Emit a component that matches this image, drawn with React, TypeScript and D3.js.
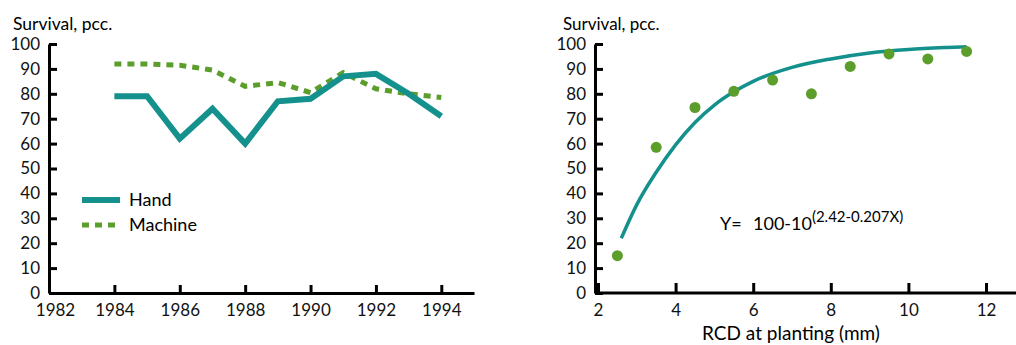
import { useEffect, useRef } from 'react';
import * as d3 from 'd3';

// left panel: survival by year
const years = [1984, 1985, 1986, 1987, 1988, 1989, 1990, 1991, 1992, 1993, 1994];
const handSurvival = [79, 79, 62, 74, 60, 77, 78, 87, 88, 80, 71];
const machineSurvival = [92, 92, 91.5, 89.5, 83, 84.5, 80.5, 88.5, 82, 80, 78.5];
const yearTicks = [1982, 1984, 1986, 1988, 1990, 1992, 1994];

// right panel: survival vs RCD
const rcd = [2.5, 3.5, 4.5, 5.5, 6.5, 7.5, 8.5, 9.5, 10.5, 11.5];
const rcdSurvival = [15, 58.5, 74.5, 81, 85.5, 80, 91, 96, 94, 97];
const fitX = [2.6, 3, 3.5, 4, 4.5, 5, 5.5, 6, 7, 8, 9, 10, 11, 11.5];
const fitY = [22, 35.5, 48.5, 59.5, 68.5, 75.5, 80.8, 85, 90.6, 94, 96.4, 97.8, 98.6, 98.9];
const rcdTicks = [2, 4, 6, 8, 10, 12];
const survivalTicks = [0, 10, 20, 30, 40, 50, 60, 70, 80, 90, 100];

const TEAL = '#14918d';
const GREEN = '#5c9e2c';
const FONT = 'Lato, "Open Sans", sans-serif';

const App = () => {
  const svgRef = useRef<SVGSVGElement>(null);

  useEffect(() => {
    const svg = d3.select(svgRef.current);
    svg.selectAll('*').remove();

    const top = 44;
    const bottom = 293;
    const y = d3.scaleLinear().domain([0, 100]).range([bottom, top]);

    const styleAxis = (g: any) => {
      g.select('.domain').attr('stroke', '#000').attr('stroke-width', 3);
      g.selectAll('.tick line').attr('stroke', '#000').attr('stroke-width', 3);
      g.selectAll('.tick text')
        .attr('font-family', FONT)
        .attr('font-size', 17)
        .attr('fill', '#111');
    };

    // ---------- left chart ----------
    const xL = d3.scaleLinear().domain([1982, 1995]).range([49, 474]);
    const left = svg.append('g');

    left.append('g')
      .attr('transform', `translate(49,0)`)
      .call(d3.axisLeft(y).tickValues(survivalTicks).tickSize(-8).tickSizeOuter(0).tickPadding(9))
      .call(styleAxis);

    const xAxisL = left.append('g')
      .attr('transform', `translate(0,${bottom})`)
      .call(d3.axisBottom(xL).tickValues(yearTicks).tickFormat(d3.format('d')).tickSize(-8).tickSizeOuter(0).tickPadding(11))
      .call(styleAxis);
    // first year label sits a little right of the corner
    xAxisL.selectAll('.tick text').filter((d: any) => d === 1982).attr('dx', 6);

    const lineL = d3.line<number>()
      .x((_, i) => xL(years[i]))
      .y(d => y(d));

    left.append('path')
      .datum(machineSurvival)
      .attr('d', lineL)
      .attr('fill', 'none')
      .attr('stroke', GREEN)
      .attr('stroke-width', 5)
      .attr('stroke-dasharray', '7,6');

    left.append('path')
      .datum(handSurvival)
      .attr('d', lineL)
      .attr('fill', 'none')
      .attr('stroke', TEAL)
      .attr('stroke-width', 6);

    left.append('text')
      .attr('x', 13).attr('y', 30)
      .attr('font-family', FONT).attr('font-size', 17.5)
      .text('Survival, pcc.');

    // legend
    const legend = left.append('g');
    legend.append('line')
      .attr('x1', 82).attr('x2', 120).attr('y1', 200).attr('y2', 200)
      .attr('stroke', TEAL).attr('stroke-width', 6);
    legend.append('line')
      .attr('x1', 82).attr('x2', 120).attr('y1', 225).attr('y2', 225)
      .attr('stroke', GREEN).attr('stroke-width', 5).attr('stroke-dasharray', '7,6');
    legend.append('text')
      .attr('x', 129).attr('y', 206)
      .attr('font-family', FONT).attr('font-size', 18)
      .text('Hand');
    legend.append('text')
      .attr('x', 129).attr('y', 231)
      .attr('font-family', FONT).attr('font-size', 18)
      .text('Machine');

    // ---------- right chart ----------
    const xR = d3.scaleLinear().domain([2, 12]).range([598, 986]);
    const right = svg.append('g');

    right.append('g')
      .attr('transform', `translate(595,0)`)
      .call(d3.axisLeft(y).tickValues(survivalTicks).tickSize(-8).tickSizeOuter(0).tickPadding(9))
      .call(styleAxis);

    const xAxisR = right.append('g')
      .attr('transform', `translate(0,${bottom})`)
      .call(d3.axisBottom(xR).tickValues(rcdTicks).tickSize(-10).tickSizeOuter(0).tickPadding(11))
      .call(styleAxis);
    xAxisR.select('.domain').attr('d', `M595,0H1016`);

    const fit = d3.line<number>()
      .x((_, i) => xR(fitX[i]))
      .y(d => y(d))
      .curve(d3.curveMonotoneX);

    right.append('path')
      .datum(fitY)
      .attr('d', fit)
      .attr('fill', 'none')
      .attr('stroke', TEAL)
      .attr('stroke-width', 3.5);

    right.append('g')
      .selectAll('circle')
      .data(rcdSurvival)
      .join('circle')
      .attr('cx', (_, i) => xR(rcd[i]))
      .attr('cy', d => y(d))
      .attr('r', 5.5)
      .attr('fill', GREEN);

    right.append('text')
      .attr('x', 563).attr('y', 30)
      .attr('font-family', FONT).attr('font-size', 17)
      .text('Survival, pcc.');

    // fitted equation
    right.append('text')
      .attr('x', 720).attr('y', 230)
      .attr('font-family', FONT).attr('font-size', 18)
      .text('Y=');
    const eq = right.append('text')
      .attr('x', 753).attr('y', 230)
      .attr('font-family', FONT).attr('font-size', 18);
    eq.append('tspan').text('100-10');
    eq.append('tspan')
      .attr('dy', -8)
      .attr('font-size', 15)
      .text('(2.42-0.207X)');

    right.append('text')
      .attr('x', 791).attr('y', 340)
      .attr('text-anchor', 'middle')
      .attr('font-family', FONT).attr('font-size', 19)
      .text('RCD at planting (mm)');
  }, []);

  return (
    <svg
      ref={svgRef}
      width={1016}
      height={345}
      style={{ position: 'absolute', left: 0, top: 0, background: '#fff' }}
    />
  );
};

export default App;
